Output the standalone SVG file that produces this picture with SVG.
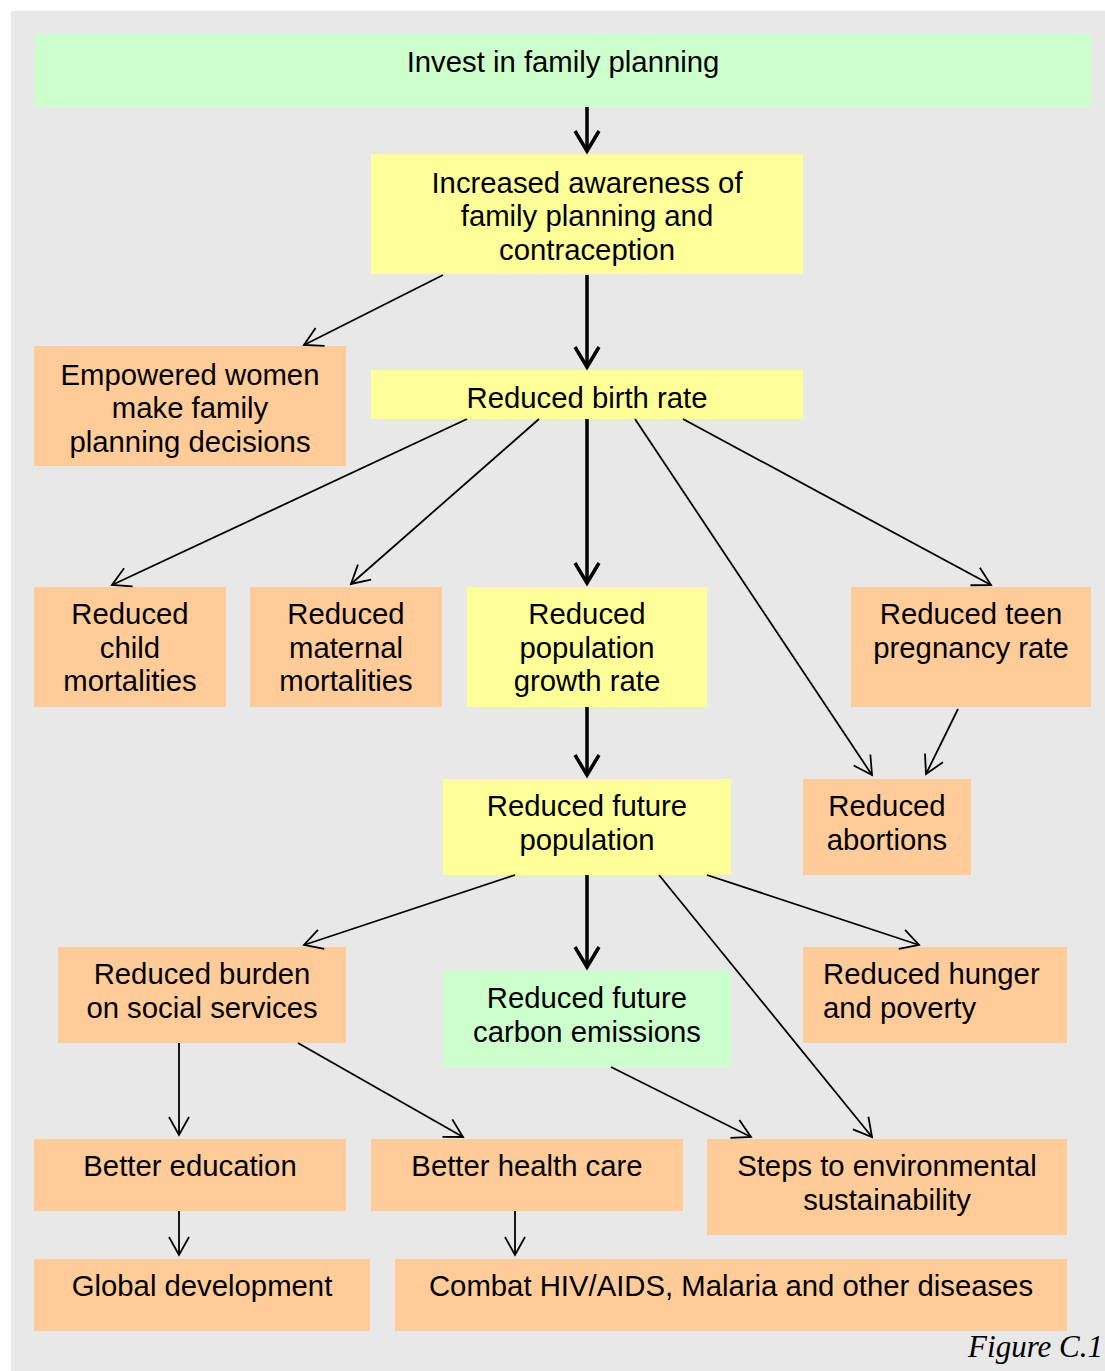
<svg xmlns="http://www.w3.org/2000/svg" width="1105" height="1371" viewBox="0 0 1105 1371">
<style>
.t{font-family:"Liberation Sans",Arial,sans-serif;font-size:29.3px;fill:#000;text-anchor:middle}
.g{fill:#CCFFCC}.y{fill:#FFFF99}.o{fill:#FFCC99}
.thin{stroke:#000;stroke-width:1.8;fill:none;marker-end:url(#ah)}
.thick{stroke:#000;stroke-width:3.5;fill:none;marker-end:url(#ahb)}
</style>
<defs>
<marker id="ah" markerUnits="userSpaceOnUse" viewBox="-22 -14 26 28" refX="0" refY="0" markerWidth="26" markerHeight="28" orient="auto">
<path d="M-18,-10 L0,0 L-18,10" fill="none" stroke="#000" stroke-width="1.8"/>
</marker>
<marker id="ahb" markerUnits="userSpaceOnUse" viewBox="-24 -15 28 30" refX="0" refY="0" markerWidth="28" markerHeight="30" orient="auto">
<path d="M-20,-12 L0,0 L-20,12" fill="none" stroke="#000" stroke-width="3.5"/>
</marker>
</defs>
<rect x="11" y="11" width="1094" height="1360" fill="#E8E8E8"/>
<g id="n1"><rect class="g" x="35" y="34" width="1056" height="73"/><text class="t" x="563" y="72">Invest in family planning</text></g>
<g id="n2"><rect class="y" x="371" y="154" width="432" height="120"/><text class="t" x="587" y="193">Increased awareness of</text><text class="t" x="587" y="226">family planning and</text><text class="t" x="587" y="260">contraception</text></g>
<g id="n3"><rect class="o" x="34" y="346" width="312" height="120"/><text class="t" x="190" y="385">Empowered women</text><text class="t" x="190" y="418">make family</text><text class="t" x="190" y="452">planning decisions</text></g>
<g id="n4"><rect class="y" x="371" y="370" width="432" height="49"/><text class="t" x="587" y="408">Reduced birth rate</text></g>
<g id="n5"><rect class="o" x="34" y="587" width="192" height="120"/><text class="t" x="130" y="624">Reduced</text><text class="t" x="130" y="658">child</text><text class="t" x="130" y="691">mortalities</text></g>
<g id="n6"><rect class="o" x="250" y="587" width="192" height="120"/><text class="t" x="346" y="624">Reduced</text><text class="t" x="346" y="658">maternal</text><text class="t" x="346" y="691">mortalities</text></g>
<g id="n7"><rect class="y" x="467" y="587" width="240" height="120"/><text class="t" x="587" y="624">Reduced</text><text class="t" x="587" y="658">population</text><text class="t" x="587" y="691">growth rate</text></g>
<g id="n8"><rect class="o" x="851" y="587" width="240" height="120"/><text class="t" x="971" y="624">Reduced teen</text><text class="t" x="971" y="658">pregnancy rate</text></g>
<g id="n9"><rect class="y" x="443" y="779" width="288" height="96"/><text class="t" x="587" y="816">Reduced future</text><text class="t" x="587" y="850">population</text></g>
<g id="n10"><rect class="o" x="803" y="779" width="168" height="96"/><text class="t" x="887" y="816">Reduced</text><text class="t" x="887" y="850">abortions</text></g>
<g id="n11"><rect class="o" x="58" y="947" width="288" height="96"/><text class="t" x="202" y="984">Reduced burden</text><text class="t" x="202" y="1018">on social services</text></g>
<g id="n12"><rect class="g" x="443" y="971" width="288" height="96"/><text class="t" x="587" y="1008">Reduced future</text><text class="t" x="587" y="1042">carbon emissions</text></g>
<g id="n13"><rect class="o" x="803" y="947" width="264" height="96"/><text class="t" x="823" y="984" style="text-anchor:start">Reduced hunger</text><text class="t" x="823" y="1018" style="text-anchor:start">and poverty</text></g>
<g id="n14"><rect class="o" x="34" y="1139" width="312" height="72"/><text class="t" x="190" y="1176">Better education</text></g>
<g id="n15"><rect class="o" x="371" y="1139" width="312" height="72"/><text class="t" x="527" y="1176">Better health care</text></g>
<g id="n16"><rect class="o" x="707" y="1139" width="360" height="96"/><text class="t" x="887" y="1176">Steps to environmental</text><text class="t" x="887" y="1210">sustainability</text></g>
<g id="n17"><rect class="o" x="34" y="1259" width="336" height="72"/><text class="t" x="202" y="1296">Global development</text></g>
<g id="n18"><rect class="o" x="395" y="1259" width="672" height="72"/><text class="t" x="731" y="1296">Combat HIV/AIDS, Malaria and other diseases</text></g>
<text x="1103" y="1357" style="font-family:'Liberation Serif','Times New Roman',serif;font-style:italic;font-size:31px;text-anchor:end">Figure C.1</text>
<g id="connectors">
<line class="thick" x1="587" y1="107" x2="587" y2="151"/>
<line class="thin" x1="443" y1="275" x2="304" y2="345"/>
<line class="thick" x1="587" y1="275" x2="587" y2="367"/>
<line class="thin" x1="467" y1="419" x2="112" y2="585"/>
<line class="thin" x1="539" y1="419" x2="351" y2="584"/>
<line class="thick" x1="587" y1="419" x2="587" y2="583"/>
<line class="thin" x1="635" y1="419" x2="872" y2="775"/>
<line class="thin" x1="683" y1="419" x2="991" y2="585"/>
<line class="thin" x1="958" y1="709" x2="926" y2="774"/>
<line class="thick" x1="587" y1="707" x2="587" y2="775"/>
<line class="thin" x1="515" y1="875" x2="304" y2="945"/>
<line class="thick" x1="587" y1="875" x2="587" y2="967"/>
<line class="thin" x1="659" y1="875" x2="872" y2="1137"/>
<line class="thin" x1="707" y1="875" x2="919" y2="945"/>
<line class="thin" x1="179" y1="1043" x2="179" y2="1135"/>
<line class="thin" x1="298" y1="1043" x2="463" y2="1137"/>
<line class="thin" x1="611" y1="1067" x2="751" y2="1137"/>
<line class="thin" x1="179" y1="1211" x2="179" y2="1255"/>
<line class="thin" x1="515" y1="1211" x2="515" y2="1255"/>
</g>
</svg>
